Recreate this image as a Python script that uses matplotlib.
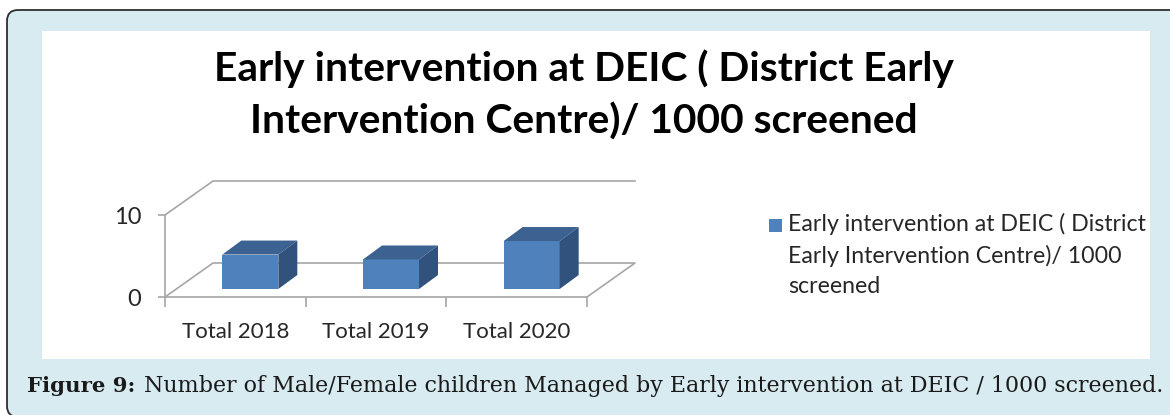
import matplotlib
matplotlib.use("Agg")
import matplotlib.pyplot as plt
from matplotlib.patches import Polygon, Rectangle, FancyBboxPatch

W, H = 1170, 415

categories = ["Total 2018", "Total 2019", "Total 2020"]
values = [4.2, 3.6, 5.85]
y_ticks = [0, 10]
series_name = "Early intervention at DEIC ( District\nEarly Intervention Centre)/ 1000\nscreened"
title = "Early intervention at DEIC ( District Early\nIntervention Centre)/ 1000 screened"
caption_bold = "Figure 9:"
caption_rest = "Number of Male/Female children Managed by Early intervention at DEIC / 1000 screened."

FRONT = "#4f81bd"
TOP = "#3c6291"
SIDE = "#31527c"
GRID = "#a6a6a6"
TEXT = "#262626"
PANEL = "#d7ebf1"

fig = plt.figure(figsize=(W / 100, H / 100), dpi=100, facecolor="white")

# page layer in pixel coordinates, y pointing down
bg = fig.add_axes([0, 0, 1, 1])
bg.set_xlim(0, W)
bg.set_ylim(H, 0)
bg.axis("off")
bg.add_patch(FancyBboxPatch((7, 10), W + 60, H - 8, boxstyle="round,pad=0,rounding_size=11",
                            fc=PANEL, ec="#2e2e2e", lw=1.3, clip_on=True))
bg.add_patch(Rectangle((42, 31), 1108, 328, fc="white", ec="none"))

bg.text(584, 95, title, ha="center", va="center", fontsize=29.3, fontweight="bold",
        family="Lato", color="black", linespacing=1.46)

# chart axes sit on the front plane of the fake 3d box
ax = fig.add_axes([165 / W, 1 - 297 / H, 422 / W, 82 / H])
ax.set_xlim(0, 3)
ax.set_ylim(0, 10)
ax.patch.set_alpha(0)
for s in ["top", "right"]:
    ax.spines[s].set_visible(False)
for s in ["left", "bottom"]:
    ax.spines[s].set_color(GRID)
    ax.spines[s].set_linewidth(1.2)

# depth of the box and of the bars, in data units
dx = 48 / 422 * 3
dy = 34 / 82 * 10
bar_dx = 19 / 422 * 3
bar_dy = 14 / 82 * 10
bar_w = 56 / 422 * 3
bar_x = [i + 0.5 + 15 / 422 * 3 for i in range(len(values))]
bar_bottom = 8 / 82 * 10

# walls and floor lines
kw = dict(color=GRID, lw=1.2, clip_on=False, zorder=1)
ax.plot([0, dx, 3 + dx], [10, 10 + dy, 10 + dy], **kw)
ax.plot([0, dx, 3 + dx, 3, 3], [0, dy, dy, 0, 0], **kw)

ax.bar(bar_x, values, width=bar_w, bottom=bar_bottom, color=FRONT, zorder=3)
for x, v in zip(bar_x, values):
    l, r = x - bar_w / 2, x + bar_w / 2
    b, t = bar_bottom, bar_bottom + v
    ax.add_patch(Polygon([(l, t), (r, t), (r + bar_dx, t + bar_dy), (l + bar_dx, t + bar_dy)],
                         fc=TOP, ec="none", clip_on=False, zorder=3))
    ax.add_patch(Polygon([(r, b), (r + bar_dx, b + bar_dy), (r + bar_dx, t + bar_dy), (r, t)],
                         fc=SIDE, ec="none", clip_on=False, zorder=3))

ax.set_xticks([0, 1, 2, 3])
ax.set_xticklabels([])
ax.set_xticks([0.5, 1.5, 2.5], labels=categories, minor=True)
ax.set_yticks(y_ticks)
ax.tick_params(axis="x", which="major", length=7, color=GRID, width=1.2)
ax.tick_params(axis="x", which="minor", length=0, pad=18, labelsize=16, labelcolor=TEXT)
ax.tick_params(axis="y", length=5, color=GRID, width=1.2, pad=12, labelsize=17, labelcolor=TEXT)
for lab in ax.get_xticklabels(minor=True) + ax.get_yticklabels():
    lab.set_family("Lato")

# legend
bg.add_patch(Rectangle((769, 219), 13, 13, fc=FRONT, ec="none"))
bg.text(788, 255, series_name, ha="left", va="center", fontsize=16.7, family="Lato",
        color=TEXT, linespacing=1.52)

# caption
bg.text(27, 386, caption_bold, ha="left", va="center", fontsize=15.3, fontweight="bold",
        family="DejaVu Serif", color="#1a1a1a")
bg.text(144, 386, caption_rest, ha="left", va="center", fontsize=15.9,
        family="DejaVu Serif", color="#1a1a1a")

fig.savefig("out.png", dpi=100, facecolor=fig.get_facecolor())
